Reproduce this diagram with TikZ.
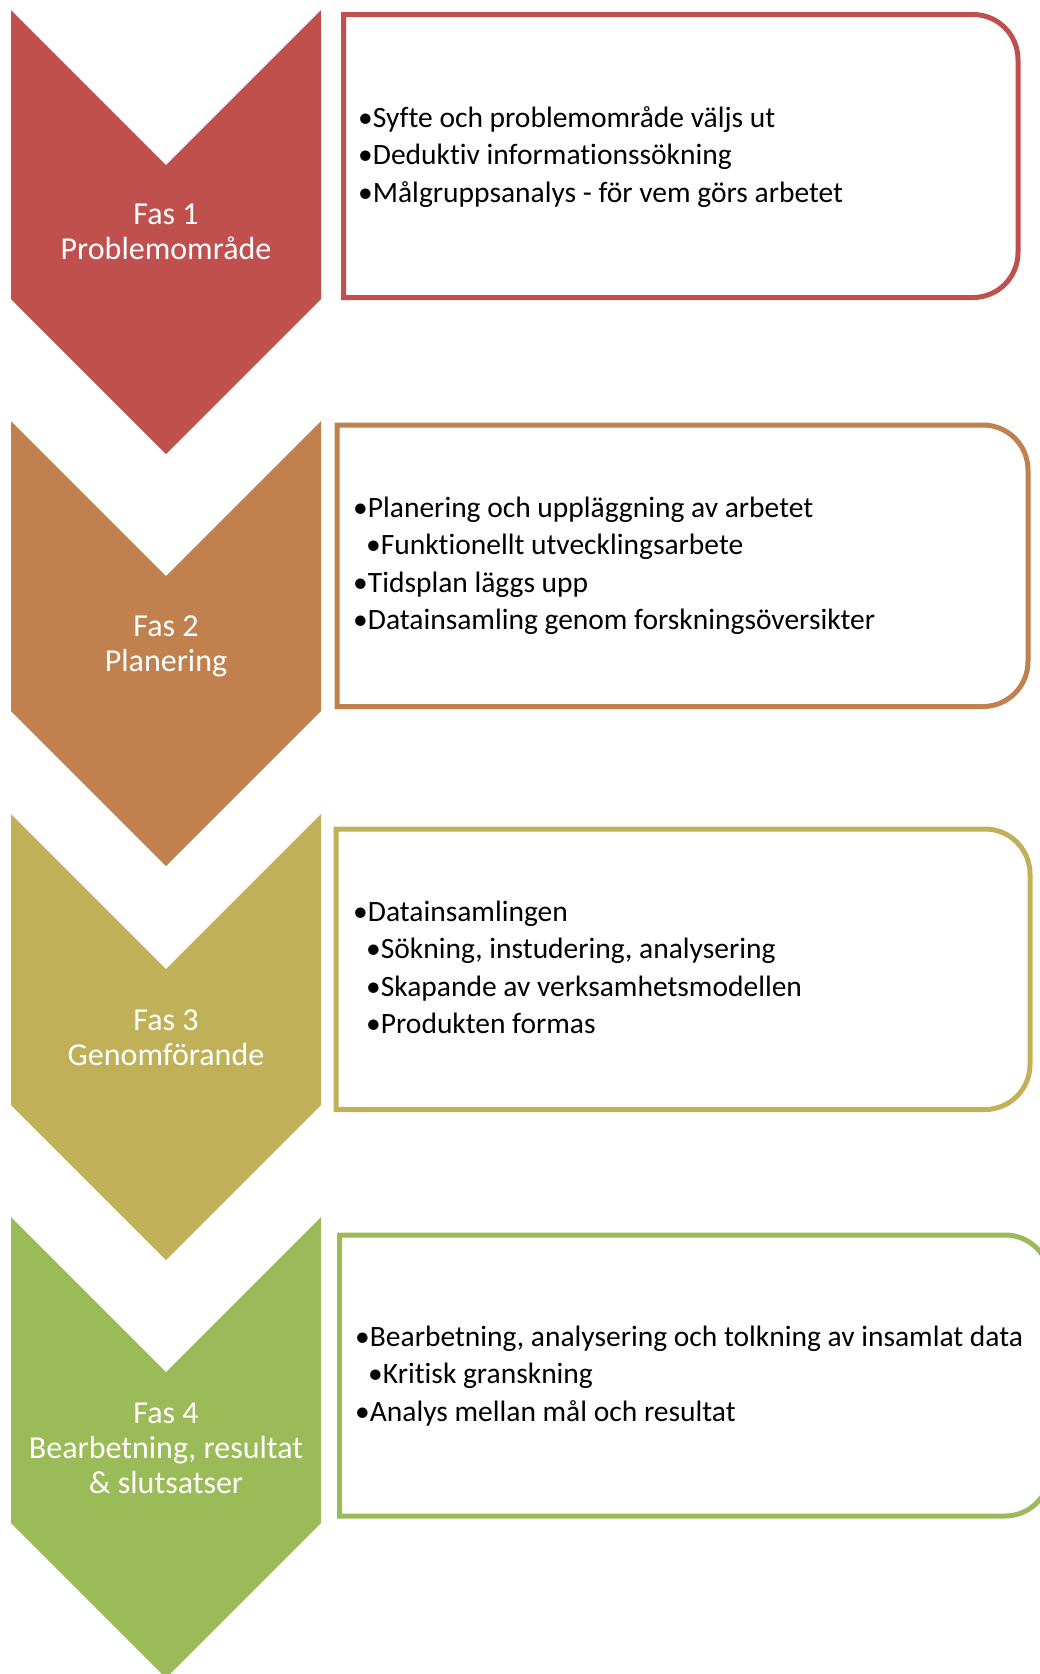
\documentclass[tikz,border=0pt]{standalone}
\usepackage{fontspec}
\setmainfont{Carlito}[Ligatures=NoCommon]
\definecolor{fasred}{HTML}{C0504D}
\definecolor{fasbrown}{HTML}{C0814F}
\definecolor{fasolive}{HTML}{C0B158}
\definecolor{fasgreen}{HTML}{9BBB59}
% chevron: colour, top, lower edge of the sides
\newcommand{\faspil}[3]{%
  \fill[#1] (11,#2) -- (166,#2+155) -- (321,#2) -- (321,#3) -- (166,#3+155) -- (11,#3) -- cycle;}
% list box, rounded on the right: colour, left, top, right, bottom
\newcommand{\faslista}[5]{%
  \draw[listbox,draw=#1] (#2,#3) -- ({#4-45},#3) arc[start angle=-90,end angle=0,radius=45]
    -- (#4,{#5-45}) arc[start angle=0,end angle=90,radius=45] -- (#2,#5) -- cycle;}
\newcommand{\sub}{\hspace*{13pt}}
\tikzset{
  fastext/.style={text=white, align=center, anchor=base, inner sep=0pt,
    font=\fontsize{32}{35}\selectfont},
  punkter/.style={align=left, anchor=base west, inner sep=0pt,
    font=\fontsize{29.5}{37.5}\selectfont},
  listbox/.style={line width=5pt, fill=white},
}
\begin{document}
\begin{tikzpicture}[x=1pt,y=-1pt]
			\useasboundingbox (0,0) rectangle (1040,1674);
			% the four chevrons
			\faspil{fasred}{10}{299}
			\faspil{fasbrown}{421}{711}
			\faspil{fasolive}{814}{1105}
			\faspil{fasgreen}{1217}{1523}
			% boxes with the lists
			\faslista{fasred}{343.5}{14.5}{1018}{297.5}
			\faslista{fasbrown}{337}{425}{1028}{706.5}
			\faslista{fasolive}{336}{829}{1030}{1109.5}
			\faslista{fasgreen}{339.5}{1235}{1050}{1516}
			% phase names (y = baseline of the last line)
			\node[fastext] (fas1) at (166,259.3) {Fas 1\\Problemområde};
			\node[fastext] (fas2) at (166,671.7) {Fas 2\\Planering};
			\node[fastext] (fas3) at (166,1065) {Fas 3\\Genomförande};
			\node[fastext] (fas4) at (166,1493.3) {Fas 4\\Bearbetning, resultat\\\& slutsatser};
			% list texts
			\node[punkter] (lista1) at (358,202) {•Syfte och problemområde väljs ut\\•Deduktiv informationssökning\\•Målgruppsanalys - för vem görs arbetet};
			\node[punkter] (lista2) at (353,629.5) {•Planering och uppläggning av arbetet\\\sub•Funktionellt utvecklingsarbete\\•Tidsplan läggs upp\\•Datainsamling genom forskningsöversikter};
			\node[punkter] (lista3) at (353,1033.5) {•Datainsamlingen\\\sub•Sökning, instudering, analysering\\\sub•Skapande av verksamhetsmodellen\\\sub•Produkten formas};
			\node[punkter] (lista4) at (355,1421) {•Bearbetning, analysering och tolkning av insamlat data\\\sub•Kritisk granskning\\•Analys mellan mål och resultat};
		\end{tikzpicture}
\end{document}
